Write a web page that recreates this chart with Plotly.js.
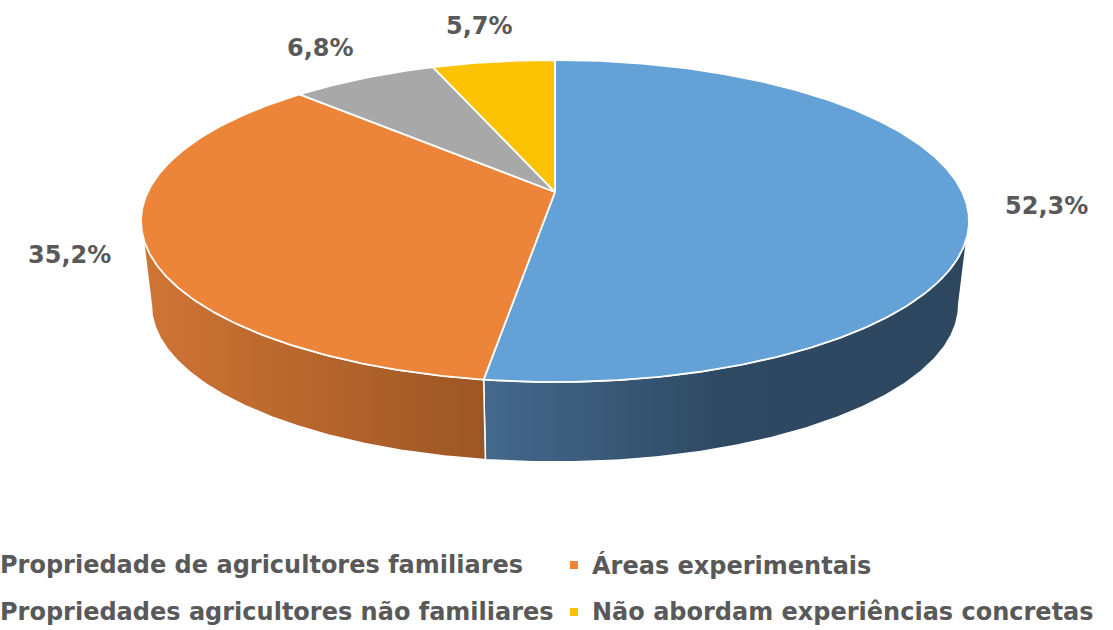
<!DOCTYPE html>
<html>
<head>
<meta charset="utf-8">
<script src="https://cdn.plot.ly/plotly-3.0.1.min.js"></script>
<style>html,body{margin:0;padding:0;background:#fff;}#chart{width:1113px;height:630px;}</style>
</head>
<body>
<div id="chart"></div>
<script>
// ---- data ----
const categories = [
  "Propriedade de agricultores familiares",
  "Áreas experimentais",
  "Propriedades agricultores não familiares",
  "Não abordam experiências concretas"
];
const values = [52.3, 35.2, 6.8, 5.7];
const valueLabels = ["52,3%", "35,2%", "6,8%", "5,7%"];

// ---- styles ----
const topColors = ["#63a1d7", "#ec853a", "#a8a8a8", "#fcc304"];
const wallScales = [
  [[0, "#44698d"], [0.5, "#2e4962"], [1, "#2c475e"]],
  [[0, "#d07535"], [1, "#9c5624"]],
  [[0, "#7f7f7f"], [1, "#7f7f7f"]],
  [[0, "#bd9200"], [1, "#bd9200"]]
];
const textColor = "#595959";
const fontFam = "DejaVu Sans, sans-serif";

// ---- geometry (layout, pixel units) ----
const W = 1113, H = 630;
const cx = 555, cy = 221;          // centre of the projected top ellipse
const rx = 414, ry = 161;          // half-axes of the top ellipse
const persp = 0.18;                // perspective strength
const S = rx * Math.sqrt(1 - persp * persp);
const St = ry * (1 - persp * persp);
const v0 = -persp / (1 - persp * persp);
const depth = 84, bottomScale = 0.975;

function proj(thetaDeg, bottom) {
  const t = thetaDeg * Math.PI / 180;
  const X = Math.sin(t), Z = Math.cos(t);
  const d = 1 + persp * Z;
  let x = cx + S * X / d;
  let y = cy - St * (Z / d - v0);
  if (bottom) {
    x = cx + bottomScale * (x - cx);
    y = cy + bottomScale * (y - cy) + depth;
  }
  return [x, y];
}
const centre = [cx, cy - St * (0 - v0)];

function arc(a0, a1, bottom) {
  const pts = [];
  const n = Math.max(2, Math.ceil(Math.abs(a1 - a0) / 0.5));
  for (let i = 0; i <= n; i++) pts.push(proj(a0 + (a1 - a0) * i / n, bottom));
  return pts;
}

const total = values.reduce((a, b) => a + b, 0);
const starts = [], ends = [];
let acc = 0;
values.forEach(v => { starts.push(acc / total * 360); acc += v; ends.push(acc / total * 360); });

const silL = Math.acos(-persp) * 180 / Math.PI;   // right silhouette angle
const silR = 360 - silL;                           // left silhouette angle

const traces = [];
// side walls (front half only)
values.forEach((v, i) => {
  const a0 = Math.max(starts[i], silL), a1 = Math.min(ends[i], silR);
  if (a1 <= a0) return;
  const top = arc(a0, a1, false);
  const bot = arc(a1, a0, true);
  const pts = top.concat(bot);
  pts.push(top[0]);
  traces.push({
    type: "scatter", mode: "lines", fill: "toself",
    x: pts.map(p => p[0]), y: pts.map(p => p[1]),
    line: {color: "#ffffff", width: 1.5},
    fillgradient: {type: "horizontal", colorscale: wallScales[i]},
    hoverinfo: "skip", showlegend: false
  });
});
// top faces
values.forEach((v, i) => {
  const pts = [centre].concat(arc(starts[i], ends[i], false));
  pts.push(centre);
  traces.push({
    type: "scatter", mode: "lines", fill: "toself",
    x: pts.map(p => p[0]), y: pts.map(p => p[1]),
    line: {color: "#ffffff", width: 1.8},
    fillcolor: topColors[i],
    hoverinfo: "skip", showlegend: false, name: categories[i]
  });
});

// value labels
const annotations = [];
values.forEach((v, i) => {
  const m = (starts[i] + ends[i]) / 2;
  const p = proj(m, false);
  const t = m * Math.PI / 180;
  annotations.push({
    x: p[0] + Math.sin(t) * 80, y: p[1] - Math.cos(t) * 36,
    xref: "x", yref: "y", text: "<b>" + valueLabels[i] + "</b>",
    showarrow: false, xanchor: "center", yanchor: "middle",
    font: {family: fontFam, size: 24, color: textColor}
  });
});

// legend (two rows x two columns)
const legCols = [-18, 574], legRows = [565, 612];
const legX = [], legY = [];
categories.forEach((c, i) => {
  const col = i % 2, row = Math.floor(i / 2);
  legX.push(legCols[col]); legY.push(legRows[row]);
  annotations.push({
    x: (legCols[col] + 16) / W, y: 1 - legRows[row] / H, xref: "paper", yref: "paper",
    text: "<b>" + c + "</b>", showarrow: false, xanchor: "left", yanchor: "middle",
    font: {family: fontFam, size: 24, color: textColor}
  });
});
traces.push({
  type: "scatter", mode: "markers", x: legX, y: legY,
  marker: {symbol: "square", size: 8, color: topColors},
  hoverinfo: "skip", showlegend: false, cliponaxis: true
});

const layout = {
  width: W, height: H,
  margin: {l: 0, r: 0, t: 0, b: 0},
  paper_bgcolor: "#ffffff", plot_bgcolor: "#ffffff",
  showlegend: false,
  xaxis: {range: [0, W], visible: false, fixedrange: true},
  yaxis: {range: [H, 0], visible: false, fixedrange: true},
  annotations: annotations
};
Plotly.newPlot("chart", traces, layout, {displayModeBar: false, staticPlot: true});
</script>
</body>
</html>
